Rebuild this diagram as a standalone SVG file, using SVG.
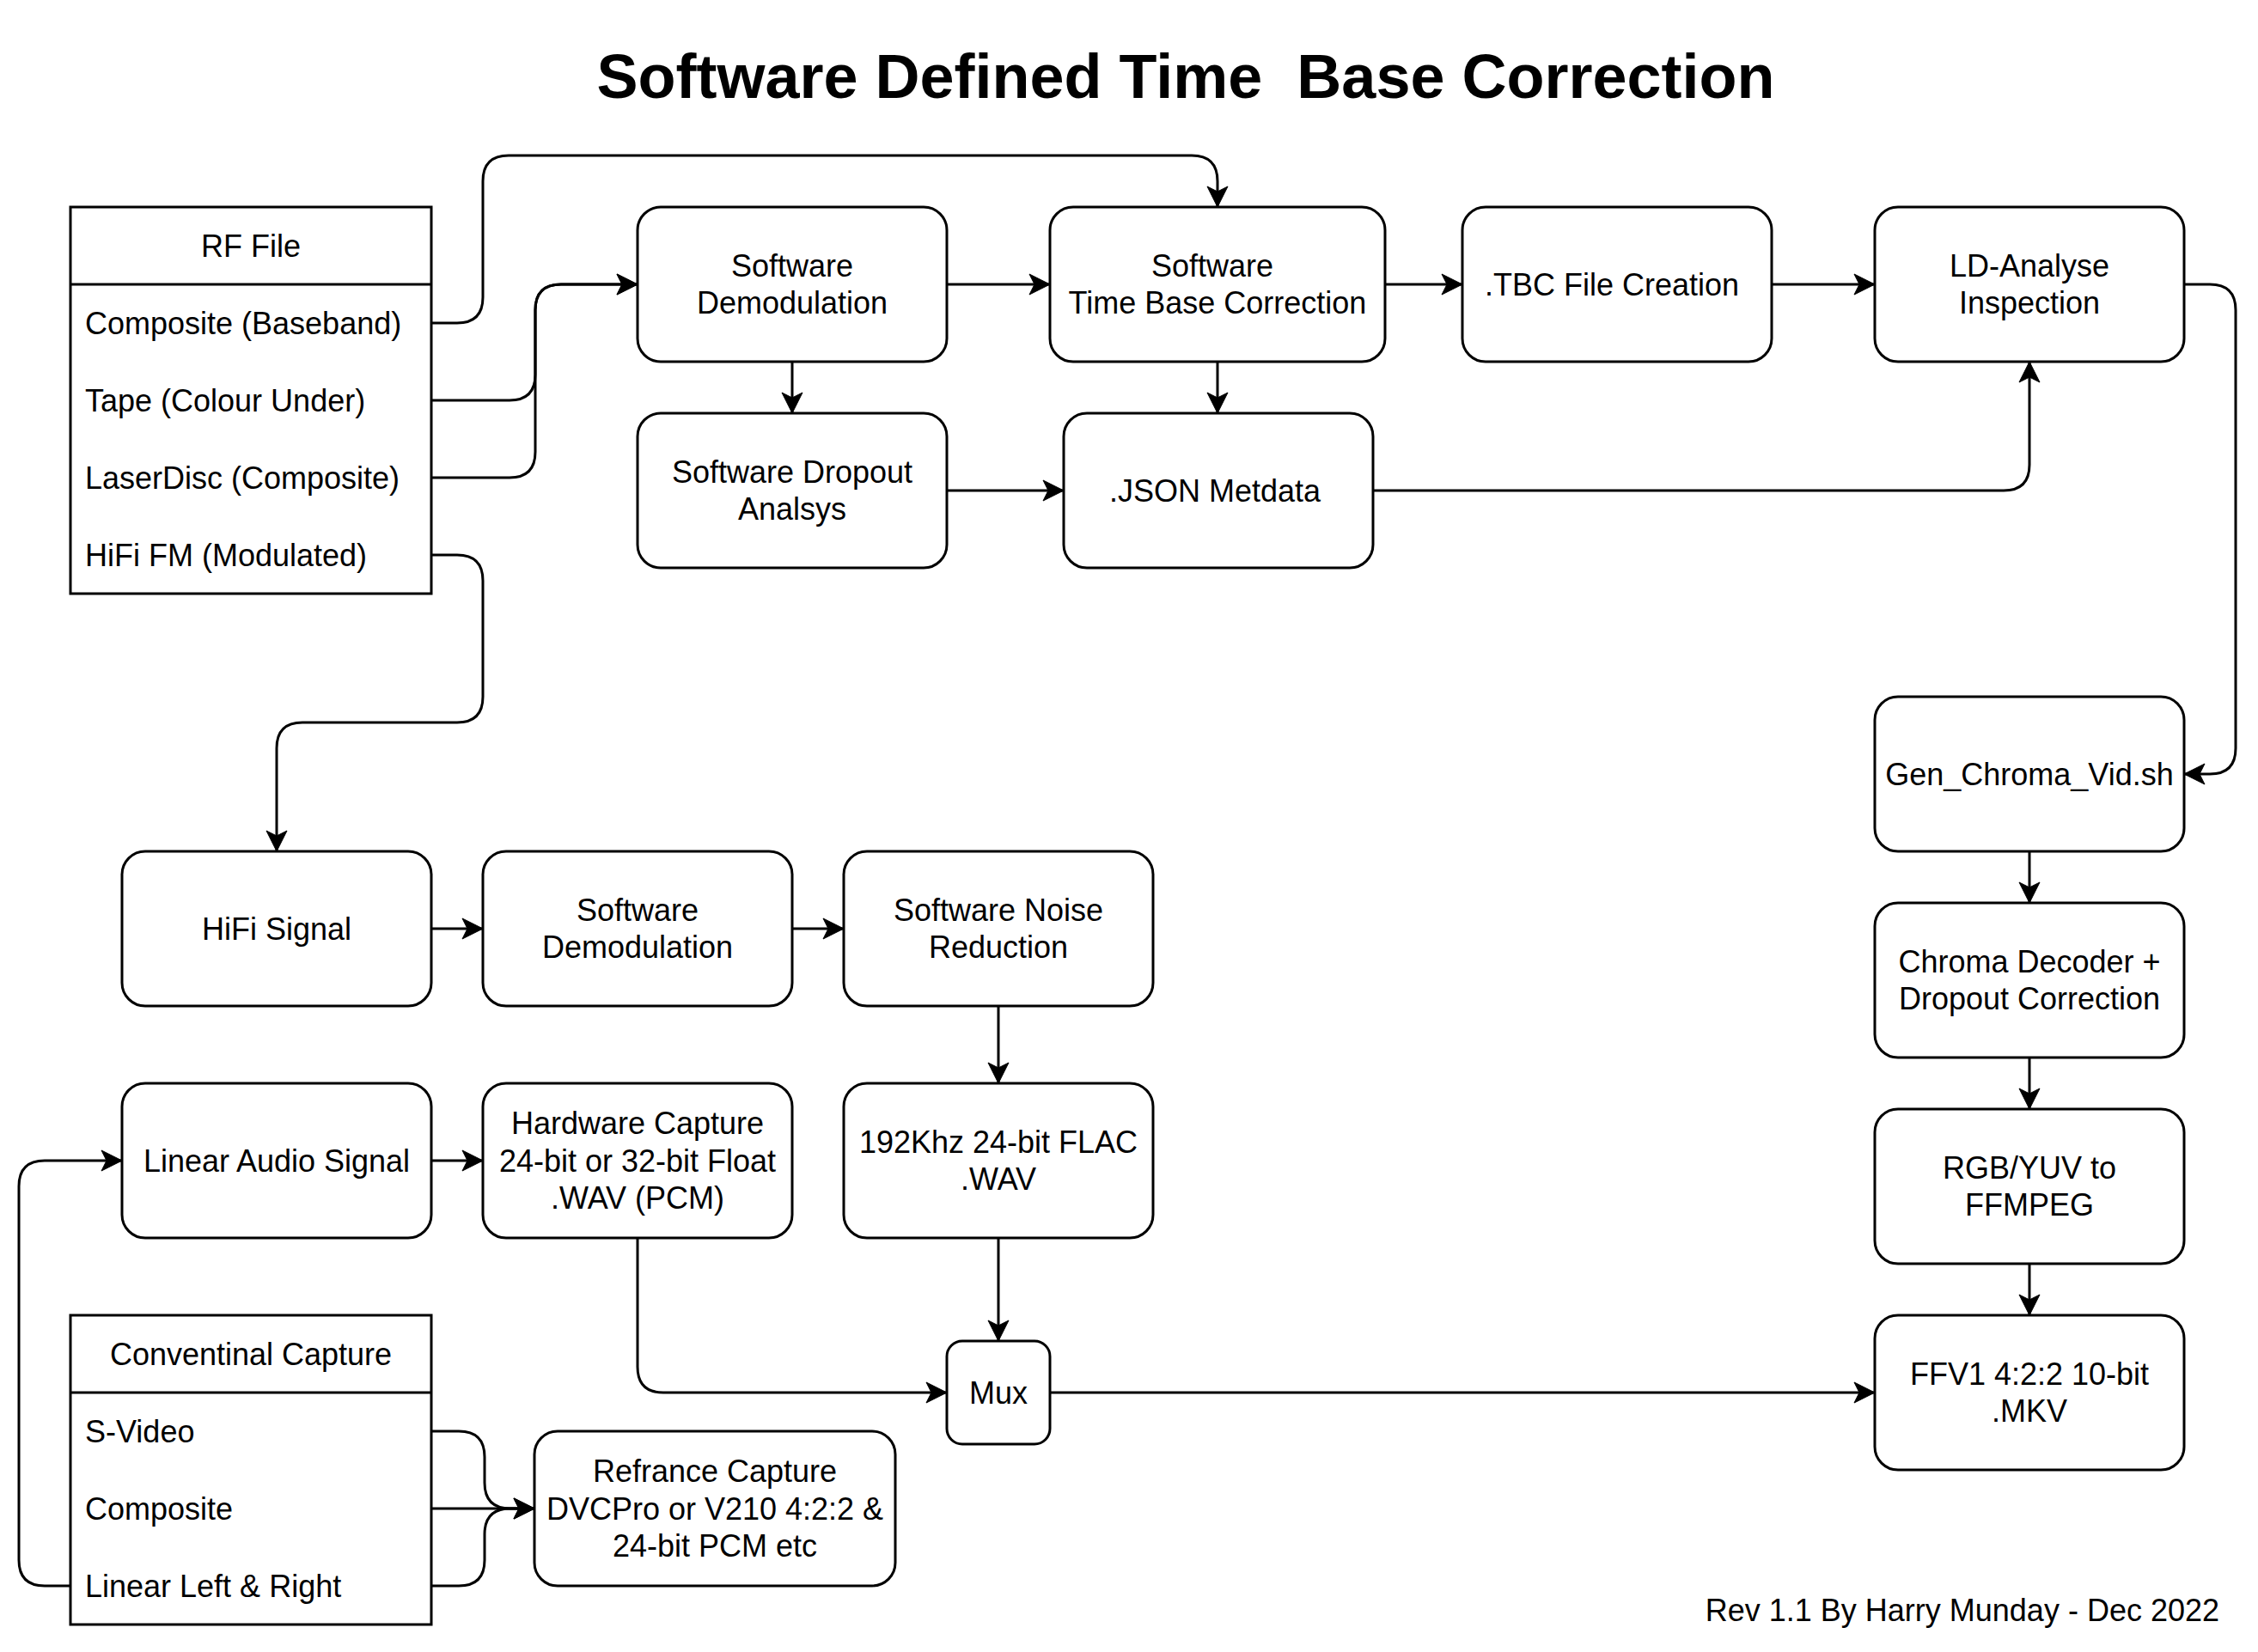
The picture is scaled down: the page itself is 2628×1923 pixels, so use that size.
<svg xmlns="http://www.w3.org/2000/svg" width="2628" height="1923" viewBox="0 0 2628 1923">
<style>
.bg{fill:#ffffff}
.box{fill:#ffffff;stroke:#000000;stroke-width:3}
.sep{fill:none;stroke:#000000;stroke-width:3}
.edge{fill:none;stroke:#000000;stroke-width:3;stroke-linejoin:round}
.t{font-family:"Liberation Sans",Arial,Helvetica,sans-serif;font-size:36px;fill:#000000}
.c{text-anchor:middle}
.title{font-family:"Liberation Sans",Arial,Helvetica,sans-serif;font-size:72px;font-weight:bold;fill:#000000;text-anchor:middle}
</style>
<defs>
<marker id="arr" markerUnits="userSpaceOnUse" markerWidth="26" markerHeight="26" viewBox="0 0 26 26" refX="25" refY="13" orient="auto">
<path d="M25,13 L1,1 L7,13 L1,25 Z" fill="#000000" stroke="#000000" stroke-width="1"/>
</marker>
</defs>
<rect class="bg" x="0" y="0" width="2628" height="1923"/>

<text id="title" class="title" x="1380" y="114" xml:space="preserve">Software Defined Time  Base Correction</text>

<g id="connectors">
<path class="edge" d="M502,376 H532 Q562,376 562,346 V211 Q562,181 592,181 H1387 Q1417,181 1417,211 V241" marker-end="url(#arr)"/>
<path class="edge" d="M502,466 H593 Q623,466 623,436 V361 Q623,331 653,331 H742" marker-end="url(#arr)"/>
<path class="edge" d="M502,556 H593 Q623,556 623,526 V361 Q623,331 653,331 H742" marker-end="url(#arr)"/>
<path class="edge" d="M502,646 H532 Q562,646 562,676 V811 Q562,841 532,841 H352 Q322,841 322,871 V991" marker-end="url(#arr)"/>
<path class="edge" d="M1102,331 H1222" marker-end="url(#arr)"/>
<path class="edge" d="M922,421 V481" marker-end="url(#arr)"/>
<path class="edge" d="M1417,421 V481" marker-end="url(#arr)"/>
<path class="edge" d="M1102,571 H1238" marker-end="url(#arr)"/>
<path class="edge" d="M1612,331 H1702" marker-end="url(#arr)"/>
<path class="edge" d="M2062,331 H2182" marker-end="url(#arr)"/>
<path class="edge" d="M1598,571 H2332 Q2362,571 2362,541 V421" marker-end="url(#arr)"/>
<path class="edge" d="M2542,331 H2572 Q2602,331 2602,361 V871 Q2602,901 2572,901 H2542" marker-end="url(#arr)"/>
<path class="edge" d="M2362,991 V1051" marker-end="url(#arr)"/>
<path class="edge" d="M2362,1231 V1291" marker-end="url(#arr)"/>
<path class="edge" d="M2362,1471 V1531" marker-end="url(#arr)"/>
<path class="edge" d="M502,1081 H562" marker-end="url(#arr)"/>
<path class="edge" d="M922,1081 H982" marker-end="url(#arr)"/>
<path class="edge" d="M1162,1171 V1261" marker-end="url(#arr)"/>
<path class="edge" d="M502,1351 H562" marker-end="url(#arr)"/>
<path class="edge" d="M82,1846 H52 Q22,1846 22,1816 V1381 Q22,1351 52,1351 H142" marker-end="url(#arr)"/>
<path class="edge" d="M742,1441 V1591 Q742,1621 772,1621 H1102" marker-end="url(#arr)"/>
<path class="edge" d="M1162,1441 V1561" marker-end="url(#arr)"/>
<path class="edge" d="M1222,1621 H2182" marker-end="url(#arr)"/>
<path class="edge" d="M502,1666 H534 Q564,1666 564,1696 V1726 Q564,1756 594,1756 H622" marker-end="url(#arr)"/>
<path class="edge" d="M502,1756 H622" marker-end="url(#arr)"/>
<path class="edge" d="M502,1846 H534 Q564,1846 564,1816 V1786 Q564,1756 594,1756 H622" marker-end="url(#arr)"/>
</g>

<g id="rf-file">
<rect class="box" x="82" y="241" width="420" height="450"/>
<line class="sep" x1="82" y1="331" x2="502" y2="331"/>
<text class="t c" x="292" y="298.5">RF File</text>
<text class="t" x="99" y="388.5">Composite (Baseband)</text>
<text class="t" x="99" y="478.5">Tape (Colour Under)</text>
<text class="t" x="99" y="568.5">LaserDisc (Composite)</text>
<text class="t" x="99" y="658.5">HiFi FM (Modulated)</text>
</g>

<g id="sw-demod">
<rect class="box" x="742" y="241" width="360" height="180" rx="27" ry="27"/>
<text class="t c" x="922" y="322">Software</text>
<text class="t c" x="922" y="365">Demodulation</text>
</g>

<g id="sw-tbc">
<rect class="box" x="1222" y="241" width="390" height="180" rx="27" ry="27"/>
<text class="t c" x="1411" y="322">Software</text>
<text class="t c" x="1417" y="365">Time Base Correction</text>
</g>

<g id="tbc-file">
<rect class="box" x="1702" y="241" width="360" height="180" rx="27" ry="27"/>
<text class="t c" x="1876" y="343.5">.TBC File Creation</text>
</g>

<g id="ld-analyse">
<rect class="box" x="2182" y="241" width="360" height="180" rx="27" ry="27"/>
<text class="t c" x="2362" y="322">LD-Analyse</text>
<text class="t c" x="2362" y="365">Inspection</text>
</g>

<g id="dropout">
<rect class="box" x="742" y="481" width="360" height="180" rx="27" ry="27"/>
<text class="t c" x="922" y="562">Software Dropout</text>
<text class="t c" x="922" y="605">Analsys</text>
</g>

<g id="json">
<rect class="box" x="1238" y="481" width="360" height="180" rx="27" ry="27"/>
<text class="t c" x="1414" y="583.5">.JSON Metdata</text>
</g>

<g id="gen-chroma">
<rect class="box" x="2182" y="811" width="360" height="180" rx="27" ry="27"/>
<text class="t c" x="2362" y="913.5">Gen_Chroma_Vid.sh</text>
</g>

<g id="chroma-decoder">
<rect class="box" x="2182" y="1051" width="360" height="180" rx="27" ry="27"/>
<text class="t c" x="2362" y="1132">Chroma Decoder +</text>
<text class="t c" x="2362" y="1175">Dropout Correction</text>
</g>

<g id="rgb-yuv">
<rect class="box" x="2182" y="1291" width="360" height="180" rx="27" ry="27"/>
<text class="t c" x="2362" y="1372">RGB/YUV to</text>
<text class="t c" x="2362" y="1415">FFMPEG</text>
</g>

<g id="ffv1">
<rect class="box" x="2182" y="1531" width="360" height="180" rx="27" ry="27"/>
<text class="t c" x="2362" y="1612">FFV1 4:2:2 10-bit</text>
<text class="t c" x="2362" y="1655">.MKV</text>
</g>

<g id="hifi-signal">
<rect class="box" x="142" y="991" width="360" height="180" rx="27" ry="27"/>
<text class="t c" x="322" y="1093.5">HiFi Signal</text>
</g>

<g id="sw-demod-2">
<rect class="box" x="562" y="991" width="360" height="180" rx="27" ry="27"/>
<text class="t c" x="742" y="1072">Software</text>
<text class="t c" x="742" y="1115">Demodulation</text>
</g>

<g id="noise-reduction">
<rect class="box" x="982" y="991" width="360" height="180" rx="27" ry="27"/>
<text class="t c" x="1162" y="1072">Software Noise</text>
<text class="t c" x="1162" y="1115">Reduction</text>
</g>

<g id="linear-audio">
<rect class="box" x="142" y="1261" width="360" height="180" rx="27" ry="27"/>
<text class="t c" x="322" y="1363.5">Linear Audio Signal</text>
</g>

<g id="hardware-capture">
<rect class="box" x="562" y="1261" width="360" height="180" rx="27" ry="27"/>
<text class="t c" x="742" y="1320.3">Hardware Capture</text>
<text class="t c" x="742" y="1363.5">24-bit or 32-bit Float</text>
<text class="t c" x="742" y="1406.7">.WAV (PCM)</text>
</g>

<g id="flac">
<rect class="box" x="982" y="1261" width="360" height="180" rx="27" ry="27"/>
<text class="t c" x="1162" y="1342">192Khz 24-bit FLAC</text>
<text class="t c" x="1162" y="1385">.WAV</text>
</g>

<g id="mux">
<rect class="box" x="1102" y="1561" width="120" height="120" rx="18" ry="18"/>
<text class="t c" x="1162" y="1633.5">Mux</text>
</g>

<g id="conventional-capture">
<rect class="box" x="82" y="1531" width="420" height="360"/>
<line class="sep" x1="82" y1="1621" x2="502" y2="1621"/>
<text class="t c" x="292" y="1588.5">Conventinal Capture</text>
<text class="t" x="99" y="1678.5">S-Video</text>
<text class="t" x="99" y="1768.5">Composite</text>
<text class="t" x="99" y="1858.5">Linear Left &amp; Right</text>
</g>

<g id="reference-capture">
<rect class="box" x="622" y="1666" width="420" height="180" rx="27" ry="27"/>
<text class="t c" x="832" y="1725.3">Refrance Capture</text>
<text class="t c" x="832" y="1768.5">DVCPro or V210 4:2:2 &amp;</text>
<text class="t c" x="832" y="1811.7">24-bit PCM etc</text>
</g>

<text id="rev" class="t" x="2583" y="1887" text-anchor="end">Rev 1.1 By Harry Munday - Dec 2022</text>
</svg>
